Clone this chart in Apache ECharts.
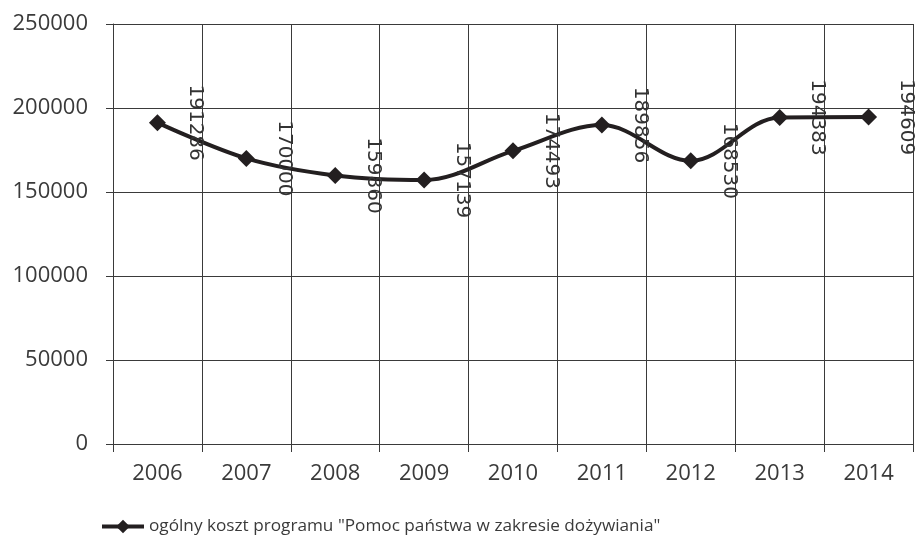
<!DOCTYPE html>
<html>
<head>
<meta charset="utf-8">
<script src="https://cdn.jsdelivr.net/npm/echarts@6/dist/echarts.min.js"></script>
<style>
  html, body { margin: 0; padding: 0; background: #ffffff; }
  #chart { width: 915px; height: 548px; }
</style>
</head>
<body>
<div id="chart"></div>
<script>
// Years on the category axis
const years = ['2006', '2007', '2008', '2009', '2010', '2011', '2012', '2013', '2014'];
// Total programme cost per year
const costs = [191286, 170000, 159860, 157139, 174493, 189856, 168530, 194383, 194609];
// Value axis bounds
const yMin = 0;
const yMax = 250000;
const yStep = 50000;
const seriesName = 'ogólny koszt programu "Pomoc państwa w zakresie dożywiania"';

const chart = echarts.init(document.getElementById('chart'));
const axisFont = '"Open Sans", sans-serif';
const ink = '#231f20';

chart.setOption({
  backgroundColor: '#ffffff',
  animation: false,
  grid: { left: 113, right: 2, top: 24, bottom: 104, containLabel: false },
  legend: {
    data: [seriesName],
    left: 95,
    top: 513,
    itemWidth: 42,
    itemHeight: 17,
    itemGap: 2,
    lineStyle: { width: 4 },
    textStyle: { fontFamily: axisFont, fontSize: 17.2, color: '#3a3a3a' }
  },
  xAxis: {
    type: 'category',
    data: years,
    boundaryGap: true,
    axisLine: { lineStyle: { color: '#3a3a3a', width: 1 } },
    axisTick: { show: true, length: 8, lineStyle: { color: '#3a3a3a' } },
    splitLine: { show: true, lineStyle: { color: '#3a3a3a', width: 1 } },
    axisLabel: { fontFamily: axisFont, fontSize: 22, color: '#3a3a3a', margin: 19 }
  },
  yAxis: {
    type: 'value',
    min: yMin,
    max: yMax,
    interval: yStep,
    axisLine: { show: true, lineStyle: { color: '#3a3a3a', width: 1 } },
    axisTick: { show: true, length: 7, lineStyle: { color: '#3a3a3a' } },
    splitLine: { show: true, lineStyle: { color: '#3a3a3a', width: 1 } },
    axisLabel: {
      fontFamily: axisFont, fontSize: 22, color: '#3a3a3a', margin: 25,
      formatter: (v) => String(v)
    }
  },
  series: [{
    name: seriesName,
    type: 'line',
    data: costs,
    smooth: 0.35,
    symbol: 'diamond',
    symbolSize: 17,
    itemStyle: { color: ink },
    lineStyle: { color: ink, width: 4 },
    label: {
      show: true,
      position: 'inside',
      rotate: -90,
      offset: [0, -38],
      align: 'center',
      verticalAlign: 'middle',
      fontFamily: '"DejaVu Sans", sans-serif',
      fontSize: 20,
      color: '#333333'
    }
  }]
});
</script>
</body>
</html>
